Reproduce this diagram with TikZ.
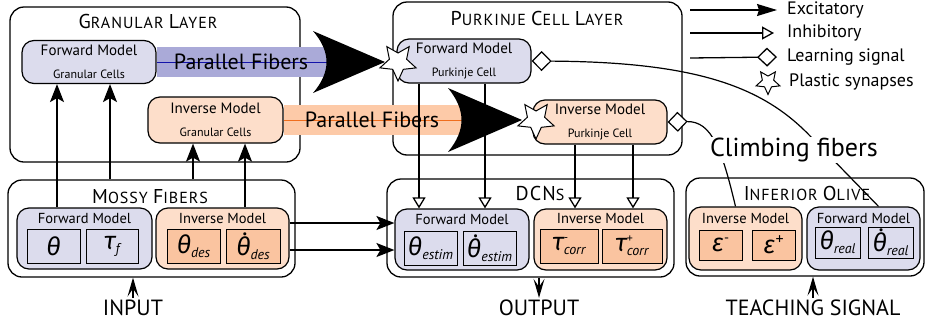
\documentclass[tikz,border=0pt]{standalone}
\usepackage{fontspec}
\setmainfont{PT Sans}
\newfontfamily\grk{Fira Sans}
\newfontfamily\scfont{PT Sans}[LetterSpace=6]
\usetikzlibrary{arrows.meta,shapes.geometric,positioning,calc}

\definecolor{fwfill}{RGB}{220,220,237}
\definecolor{fwband}{RGB}{170,170,216}
\definecolor{fwline}{RGB}{20,20,170}
\definecolor{invfill}{RGB}{253,222,202}
\definecolor{invinner}{RGB}{250,196,160}
\definecolor{invband}{RGB}{253,202,168}
\definecolor{invline}{RGB}{240,110,30}

\newcommand\fs[1]{\fontsize{#1}{#1}\selectfont}
\newcommand\capt[2]{{\fs{20}#1\fs{16}#2}}
\newcommand\gsym[1]{{\fs{25}\grk\itshape #1}}
\newcommand\sub[1]{\raisebox{-4pt}{\fs{14}\itshape #1}}
\newcommand\supsub[2]{\rlap{\raisebox{9pt}{\fs{12}#1}}\sub{#2}}
\newcommand\tdot[1]{\setbox0\hbox{#1}\rlap{\hbox to \wd0{\hss\raisebox{\dimexpr\ht0+1pt\relax}{\fs{26}\kern3pt.}\hss}}\box0}

\begin{document}
\begin{tikzpicture}[x=1pt, y=-1pt,
    layer/.style={draw, line width=1.3pt, rounded corners=14pt, inner sep=0pt},
    fwbox/.style={draw, fill=fwfill, line width=1.2pt, rounded corners=12pt, inner sep=0pt, align=center, font=\fs{15}},
    invbox/.style={fwbox, fill=invfill},
    fwvar/.style={draw, fill=fwfill, line width=1pt, inner sep=0pt},
    invvar/.style={fwvar, fill=invinner},
    ttl/.style={inner sep=0pt, font=\scfont\fs{16}},
    blbl/.style={inner sep=0pt, font=\fs{14.5}},
    pftxt/.style={inner sep=0pt, text=black, font=\fs{22}},
    fwpf/.style={line width=30pt, fwband, shorten >=60pt, postaction={draw=fwline, line width=0.9pt}},
    invpf/.style={line width=30pt, invband, shorten >=60pt, postaction={draw=invline, line width=0.9pt}},
    exc/.style={line width=1.3pt, -{Stealth[length=18pt, width=14pt, inset=4pt]}},
    inh/.style={line width=1.3pt, -{Triangle[fill=white, length=11pt, width=13pt]}},
    sig/.style={line width=1.3pt, -{Stealth[length=19pt, width=11pt, inset=8pt]}},
    cf/.style={line width=1.2pt, {Diamond[fill=white, length=20pt, width=20pt]}-},
    plastic/.style={star, star points=5, star point ratio=2.1, shape border rotate=180, draw, fill=white, line width=1pt, inner sep=0pt, minimum size=38pt},
    iolbl/.style={inner sep=2pt, font=\fs{22}},
    legtxt/.style={inner sep=0pt, anchor=west, font=\fs{18}}
]
\useasboundingbox (0,0) rectangle (925,327);

% layers
\node[layer, minimum width=290pt, minimum height=155pt] (gl) at (155,84.5) {};
\node[ttl] (gltitle) at (148,21) {\capt{G}{RANULAR} \capt{L}{AYER}};
\node[layer, minimum width=289pt, minimum height=153pt] (pl) at (537.5,78.5) {};
\node[ttl] (pltitle) at (537,18) {\capt{P}{URKINJE} \capt{C}{ELL} \capt{L}{AYER}};
\node[layer, minimum width=287pt, minimum height=97pt] (mf) at (151.5,228.5) {};
\node[ttl] (mftitle) at (150,197) {\capt{M}{OSSY} \capt{F}{IBERS}};
\node[layer, minimum width=287pt, minimum height=98pt] (dcn) at (530.5,228) {};
\node[ttl] (dcntitle) at (540,193) {\capt{DCN}{S}};
\node[layer, minimum width=238pt, minimum height=98pt] (io) at (805,227) {};
\node[ttl] (iotitle) at (807,193) {\capt{I}{NFERIOR} \capt{O}{LIVE}};

% parallel fibers
\node[fwbox, minimum width=134pt, minimum height=43pt] (fwgc) at (89,62) {Forward Model\\[8pt]{\fs{12}Granular Cells}};
\node[invbox, minimum width=135pt, minimum height=46pt] (invgc) at (215.5,120) {Inverse Model\\[8pt]{\fs{12}Granular Cells}};
\node[fwbox, minimum width=134pt, minimum height=44pt] (fwpc) at (464,61) {Forward Model\\[8pt]{\fs{12}Purkinje Cell}};
\node[invbox, minimum width=134pt, minimum height=44pt] (invpc) at (600,122) {Inverse Model\\[8pt]{\fs{12}Purkinje Cell}};
\coordinate (fwsyn) at (398,62);
\coordinate (invsyn) at (536,120);

\draw[fwpf] (fwgc.east) -- node[pos=.35, pftxt] {Parallel Fibers} (fwsyn);
\draw[invpf] (invgc.east) -- node[pos=.35, pftxt] {Parallel Fibers} (invsyn);

% mossy fibers
\node[fwbox, minimum width=135pt, minimum height=61pt] (mffw) at (84.5,238.5) {};
\node[blbl] (mffwlbl) at (84.5,219) {Forward Model};
\node[fwvar, minimum width=53pt, minimum height=34pt] (th) at (53.5,246) {\gsym{θ}};
\node[fwvar, minimum width=52pt, minimum height=34pt] (tauf) at (112,246) {\gsym{τ}\sub{f}};
\node[invbox, minimum width=133pt, minimum height=61pt] (mfinv) at (222.5,238.5) {};
\node[blbl] (mfinvlbl) at (222.5,219) {Inverse Model};
\node[invvar, minimum width=53pt, minimum height=34pt] (thdes) at (193.5,246) {\gsym{θ}\sub{des}};
\node[invvar, minimum width=54pt, minimum height=34pt] (dthdes) at (253,246) {\tdot{\gsym{θ}}\sub{des}};

% DCNs
\node[fwbox, minimum width=134pt, minimum height=61pt] (dcnfw) at (462,239.5) {};
\node[blbl] (dcnfwlbl) at (462,220) {Forward Model};
\node[fwvar, minimum width=53pt, minimum height=34pt] (thest) at (430.5,248) {\gsym{θ}\sub{estim}};
\node[fwvar, minimum width=53pt, minimum height=34pt] (dthest) at (489.5,248) {\tdot{\gsym{θ}}\sub{estim}};
\node[invbox, minimum width=133pt, minimum height=61pt] (dcninv) at (600.5,239.5) {};
\node[blbl] (dcninvlbl) at (600.5,219) {Inverse Model};
\node[invvar, minimum width=58pt, minimum height=34pt] (taum) at (569,246) {\gsym{τ}\supsub{-}{corr}};
\node[invvar, minimum width=60pt, minimum height=34pt] (taup) at (632,246) {\gsym{τ}\supsub{+}{corr}};

% inferior olive
\node[invbox, minimum width=113pt, minimum height=63pt] (ioinv) at (745.5,238.5) {};
\node[blbl] (ioinvlbl) at (745.5,219) {Inverse Model};
\node[invvar, minimum width=43pt, minimum height=30pt] (epsm) at (720.5,245) {\gsym{ε}\raisebox{9pt}{\fs{14}-}};
\node[invvar, minimum width=43pt, minimum height=30pt] (epsp) at (773.5,245) {\gsym{ε}\raisebox{9pt}{\fs{16}+}};
\node[fwbox, minimum width=113pt, minimum height=63pt] (iofw) at (863.5,238.5) {};
\node[blbl] (iofwlbl) at (863.5,219) {Forward Model};
\node[fwvar, minimum width=45pt, minimum height=31pt] (threal) at (837.5,242.5) {\gsym{θ}\sub{real}};
\node[fwvar, minimum width=45pt, minimum height=31pt] (dthreal) at (890.5,242.5) {\tdot{\gsym{θ}}\sub{real}};

% mossy fibers to granular cells
\draw[exc] ([xshift=-27.5pt]mffw.north) -- ([xshift=-27.5pt]mffw.north |- fwgc.south);
\draw[exc] ([xshift=-41.5pt]mf.north) -- ([xshift=-41.5pt]mf.north |- fwgc.south);
\draw[exc] ([xshift=41.5pt]mf.north) -- ([xshift=41.5pt]mf.north |- invgc.south);
\draw[exc] ([xshift=22.5pt]mfinv.north) -- ([xshift=22.5pt]mfinv.north |- invgc.south);
% mossy fibers to DCNs
\draw[exc] ([yshift=15.5pt]mfinv.east) -- ([yshift=15.5pt]mfinv.east -| dcnfw.west);
\draw[exc] ([yshift=-11.5pt]mfinv.east) -- ([yshift=-11.5pt]mfinv.east -| dcnfw.west);
% purkinje to DCNs
\draw[inh] ([xshift=-45pt]fwpc.south) -- ([xshift=-45pt]fwpc.south |- dcnfw.north);
\draw[inh] ([xshift=21pt]fwpc.south) -- ([xshift=21pt]fwpc.south |- dcnfw.north);
\draw[inh] ([xshift=-25pt]invpc.south) -- ([xshift=-25pt]invpc.south |- dcninv.north);
\draw[inh] ([xshift=33pt]invpc.south) -- ([xshift=33pt]invpc.south |- dcninv.north);

% synapses
\fill[shift={(fwsyn)}] (-13,0) -- (-85,-31) .. controls (-67,-10) and (-67,10) .. (-85,31) -- cycle;
\fill[shift={(invsyn)}] (-14,0) -- (-88,-32) .. controls (-70,-10) and (-70,10) .. (-88,32) -- cycle;
\node[plastic] (fwstar) at (fwsyn) {};
\node[plastic] (invstar) at (invsyn) {};

% climbing fibers
\coordinate (cfa) at (812,138);
\draw[cf] (fwpc.east) .. controls (700,62) and (765,88) .. (cfa) -- ([xshift=15pt]iofw.north);
\draw[cf] (invpc.east) .. controls (712,121) and (722,150) .. ([xshift=-10pt]ioinv.north);
\node[fill=white, inner sep=1pt, font=\fs{26}] (cflbl) at (794,150) {Climbing fibers};

% input / output
\node[iolbl] (input) at (133,308) {INPUT};
\draw[sig] (input.north) -- (input.north |- mf.south);
\node[iolbl] (output) at (539,308) {OUTPUT};
\draw[sig] (output.north |- dcn.south) -- (output.north);
\node[iolbl] (teach) at (813,308) {TEACHING SIGNAL};
\draw[sig] (teach.north) -- (teach.north |- io.south);

% legend
\node[legtxt] (lexc) at (787,10) {Excitatory};
\node[legtxt] (linh) at (787,33) {Inhibitory};
\node[legtxt] (llrn) at (787,57) {Learning signal};
\node[legtxt] (lpla) at (789,82) {Plastic synapses};
\coordinate (lexcs) at (690,10);
\coordinate (linhs) at (690,33);
\coordinate (llrns) at (690,58);
\draw[line width=1.3pt, -{Stealth[length=20pt, width=12pt, inset=2pt]}] (lexcs) -- ([xshift=-10pt]lexc.west);
\draw[line width=1.3pt, -{Triangle[fill=white, length=12pt, width=13pt]}] (linhs) -- ([xshift=-13pt]linh.west);
\draw[line width=1.3pt, -{Diamond[fill=white, length=20pt, width=19pt]}] (llrns) -- ([xshift=-10pt]llrn.west);
\node[plastic, minimum size=25pt] (lstar) at (768,82) {};
\end{tikzpicture}
\end{document}
